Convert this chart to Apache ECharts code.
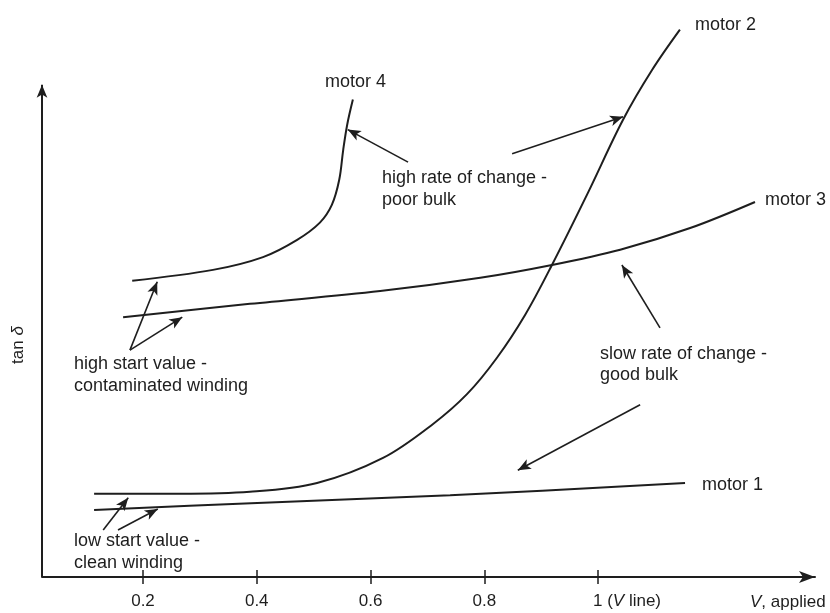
<!DOCTYPE html>
<html>
<head>
<meta charset="utf-8">
<script src="https://cdn.jsdelivr.net/npm/echarts@6/dist/echarts.min.js"></script>
<style>
  html, body { margin: 0; padding: 0; background: #fff; }
  #main { width: 830px; height: 613px; }
</style>
</head>
<body>
<div id="main"></div>
<script>
// tan delta vs applied voltage (arbitrary tan delta units)
var xMin = 0.0224, xMax = 1.3815, yMax = 11.5, yAxisTop = 10;
var tickValues = [0.2, 0.4, 0.6, 0.8, 1];

var motor1X = [0.114, 0.39, 0.74, 1.153];
var motor1Y = [1.36, 1.50, 1.66, 1.91];

var motor2X = [0.114, 0.265, 0.388, 0.506, 0.622, 0.710, 0.770, 0.822, 0.872, 0.919, 0.982, 1.044, 1.095, 1.144];
var motor2Y = [1.69, 1.69, 1.73, 1.91, 2.42, 3.11, 3.72, 4.45, 5.33, 6.34, 7.80, 9.29, 10.30, 11.12];

var motor3X = [0.165, 0.388, 0.617, 0.793, 0.919, 1.039, 1.162, 1.276];
var motor3Y = [5.28, 5.55, 5.81, 6.08, 6.34, 6.65, 7.09, 7.62];

var motor4X = [0.181, 0.323, 0.411, 0.471, 0.511, 0.532, 0.545, 0.552, 0.559, 0.569];
var motor4Y = [6.02, 6.24, 6.50, 6.85, 7.20, 7.56, 8.07, 8.68, 9.19, 9.70];

// annotation arrows: [fromX, fromY, toX, toY]
var arrows = [
    [0.666, 8.43, 0.560, 9.09],
    [0.849, 8.60, 1.044, 9.35],
    [1.109, 5.06, 1.042, 6.34],
    [1.074, 3.50, 0.859, 2.17],
    [0.177, 4.61, 0.225, 6.00],
    [0.177, 4.61, 0.269, 5.28],
    [0.130, 0.955, 0.174, 1.61],
    [0.156, 0.955, 0.226, 1.38]
];

function zip(xs, ys) {
    return xs.map(function (x, i) { return [x, ys[i]]; });
}

var ink = '#1e1e1e';
var font = '"Liberation Sans", Arial, sans-serif';

var myChart = echarts.init(document.getElementById('main'));

function curve(name, xs, ys) {
    return {
        name: name,
        type: 'line',
        data: zip(xs, ys),
        smooth: 0.35,
        showSymbol: false,
        silent: true,
        lineStyle: { color: ink, width: 2 }
    };
}

function text(x, y, str, lh) {
    return {
        type: 'text',
        left: x,
        top: y,
        style: {
            text: str,
            font: '18px ' + font,
            fill: ink,
            lineHeight: lh || 22
        }
    };
}

option = {
    animation: false,
    backgroundColor: '#fff',
    grid: { left: 42, right: 15, top: 11, bottom: 36 },
    xAxis: [
        {
            type: 'value',
            position: 'bottom',
            min: xMin,
            max: xMax,
            splitLine: { show: false },
            axisLine: {
                lineStyle: { color: ink, width: 2 },
                symbol: ['none', 'arrow'],
                symbolSize: [9, 16]
            },
            axisTick: { customValues: tickValues, length: 7, lineStyle: { color: ink, width: 1.5 } },
            axisLabel: {
                customValues: tickValues,
                margin: 16,
                color: ink,
                fontSize: 17,
                fontFamily: font,
                formatter: function (v) {
                    if (v === 1) return '{pad|}1 ({i|V} line)';
                    return String(v);
                },
                rich: {
                    pad: { width: 58 },
                    i: { fontStyle: 'italic', fontSize: 17, fontFamily: font, color: ink }
                }
            }
        },
        {
            // upper half of the ticks, crossing the axis line
            type: 'value',
            position: 'bottom',
            min: xMin,
            max: xMax,
            splitLine: { show: false },
            axisLine: { show: false },
            axisLabel: { show: false },
            axisTick: { inside: true, customValues: tickValues, length: 7, lineStyle: { color: ink, width: 1.5 } }
        }
    ],
    yAxis: {
        type: 'value',
        min: 0,
        max: yMax,
        axisLine: { show: false },
        axisTick: { show: false },
        axisLabel: { show: false },
        splitLine: { show: false }
    },
    graphic: [
        {
            type: 'text',
            x: 18,
            y: 345,
            rotation: Math.PI / 2,
            style: {
                text: 'tan {i|δ}',
                font: '17px ' + font,
                fill: ink,
                align: 'center',
                verticalAlign: 'middle',
                rich: { i: { fontStyle: 'italic', fontSize: 17, fontFamily: font, fill: ink } }
            }
        },
        {
            type: 'text',
            left: 750,
            top: 594,
            style: {
                text: '{i|V}, applied',
                font: '17px ' + font,
                fill: ink,
                rich: { i: { fontStyle: 'italic', fontSize: 17, fontFamily: font, fill: ink } }
            }
        },
        text(325, 71, 'motor 4'),
        text(695, 14, 'motor 2'),
        text(765, 189, 'motor 3'),
        text(702, 474, 'motor 1'),
        text(382, 167, 'high rate of change -\npoor bulk'),
        text(600, 344, 'slow rate of change -\ngood bulk', 21),
        text(74, 353, 'high start value -\ncontaminated winding'),
        text(74, 530, 'low start value -\nclean winding')
    ],
    series: [
        curve('motor 1', motor1X, motor1Y),
        curve('motor 2', motor2X, motor2Y),
        curve('motor 3', motor3X, motor3Y),
        curve('motor 4', motor4X, motor4Y),
        {
            name: 'annotations',
            type: 'line',
            data: [],
            silent: true,
            markLine: {
                silent: true,
                animation: false,
                symbol: ['none', 'arrow'],
                symbolSize: [8, 13],
                label: { show: false },
                lineStyle: { color: ink, width: 1.6, type: 'solid' },
                data: arrows.map(function (a) {
                    return [{ coord: [a[0], a[1]] }, { coord: [a[2], a[3]] }];
                }).concat([
                    // y axis with arrow
                    [
                        { coord: [xMin, 0], lineStyle: { width: 2 }, symbolSize: [9, 16] },
                        { coord: [xMin, yAxisTop] }
                    ]
                ])
            }
        }
    ]
};
myChart.setOption(option);
</script>
</body>
</html>
